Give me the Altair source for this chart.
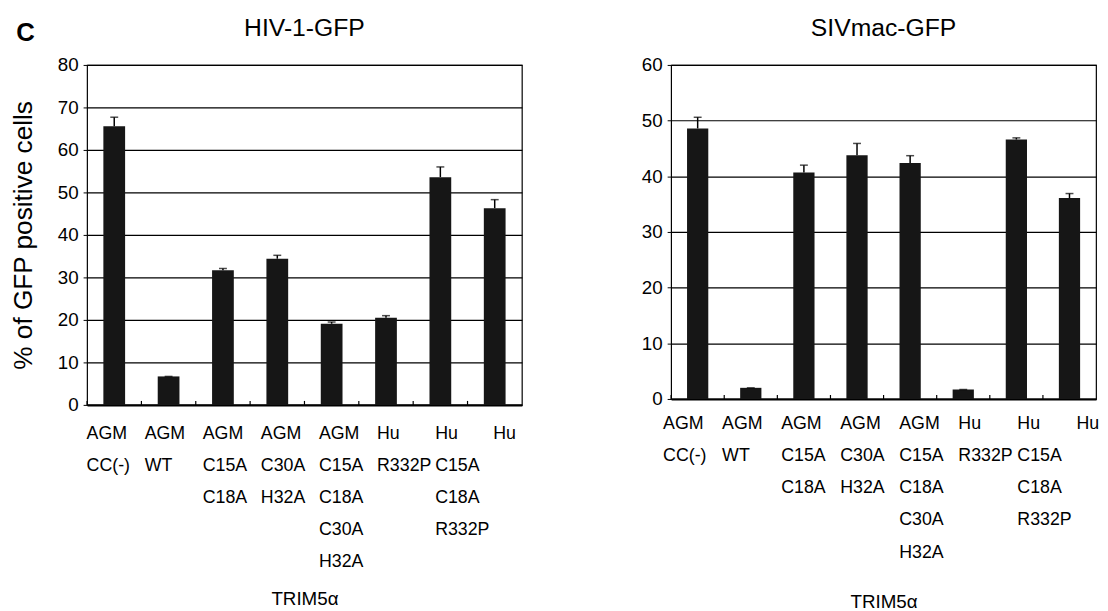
import altair as alt
import pandas as pd

# ---- data ----
categories = [
    "AGM\nCC(-)",
    "AGM\nWT",
    "AGM\nC15A\nC18A",
    "AGM\nC30A\nH32A",
    "AGM\nC15A\nC18A\nC30A\nH32A",
    "Hu\nR332P",
    "Hu\nC15A\nC18A\nR332P",
    "Hu",
]
hiv_values = [65.6, 6.7, 31.7, 34.4, 19.1, 20.5, 53.6, 46.3]
hiv_errors = [2.1, 0.0, 0.4, 0.8, 0.4, 0.5, 2.4, 2.0]
siv_values = [48.6, 2.0, 40.7, 43.8, 42.4, 1.7, 46.6, 36.1]
siv_errors = [2.0, 0.0, 1.3, 2.1, 1.3, 0.0, 0.3, 0.8]

panel_titles = ["HIV-1-GFP", "SIVmac-GFP"]
y_maxima = [80, 60]
x_title = "TRIM5\u03b1"
y_title = "% of GFP positive cells"
panel_letter = "C"

FONT = "Liberation Sans"


def panel(values, errors, title, ymax, width, height, offset_expr,
          label_pad, title_pad, with_ytitle):
    df = pd.DataFrame({
        "cat": categories,
        "value": values,
        "hi": [v + e for v, e in zip(values, errors)],
    })
    xscale = alt.Scale(domain=categories, paddingInner=0, paddingOuter=0)
    yscale = alt.Scale(domain=[0, ymax], nice=False)

    x_axis = alt.Axis(
        title=x_title,
        labelExpr="split(datum.label, '\\n')",
        labelAngle=0,
        labelAlign="left",
        labelBaseline="top",
        labelFontSize=18,
        labelLineHeight=32.5,
        labelOffset={"expr": offset_expr},
        labelPadding=label_pad,
        labelOverlap=False,
        labelColor="black",
        ticks=False,
        domain=True,
        domainColor="black",
        domainWidth=2,
        grid=False,
        titleFontSize=19,
        titleFontWeight="normal",
        titleColor="black",
        titlePadding=title_pad,
    )
    ykw = dict(
        values=list(range(0, ymax + 1, 10)),
        tickSize=4,
        tickColor="black",
        tickWidth=1,
        domain=False,
        grid=True,
        gridColor="black",
        gridWidth=1.2,
        labelFontSize=19,
        labelPadding=5,
        labelColor="black",
    )
    if with_ytitle:
        ykw.update(title=y_title, titleFontSize=26.5, titleFontWeight="normal",
                   titleColor="black", titlePadding=20)
    else:
        ykw.update(title="")
    y_axis = alt.Axis(**ykw)

    base = alt.Chart(df)
    bars = base.mark_bar(color="#161616", width={"band": 0.4}).encode(
        x=alt.X("cat:N", sort=None, scale=xscale, axis=x_axis),
        y=alt.Y("value:Q", scale=yscale, axis=y_axis),
    )
    err = base.mark_rule(color="black", strokeWidth=1.5).encode(
        x=alt.X("cat:N", sort=None),
        y="value:Q",
        y2="hi:Q",
    )
    cap = base.mark_tick(color="black", size=8, thickness=1.5).encode(
        x=alt.X("cat:N", sort=None),
        y="hi:Q",
    )
    inward = base.mark_rule(color="black", strokeWidth=1.2).encode(
        x=alt.X("cat:N", sort=None, bandPosition=0),
        y=alt.value(height),
        y2=alt.value(height - 4),
    )
    return alt.layer(bars, err, cap, inward).properties(
        width=width,
        height=height,
        title=alt.TitleParams(title, fontSize=25, fontWeight="normal",
                              color="black", offset=15, anchor="middle"),
    )


left = panel(hiv_values, hiv_errors, panel_titles[0], y_maxima[0], 440, 344,
             "-28 + 26.5*datum.index", 20, 19, True)
right = panel(siv_values, siv_errors, panel_titles[1], y_maxima[1], 430, 338,
              "-35 + 42*datum.index", 16, 32, False)

chart = alt.hconcat(left, right, spacing=119).properties(
    padding={"left": 2, "top": 4, "right": 0, "bottom": 0},
    title=alt.TitleParams(panel_letter, fontSize=26, fontWeight="bold",
                          color="black", anchor="start", offset=-30, dx=6),
).configure(font=FONT).configure_view(stroke="black", strokeWidth=1.2)

chart.save("out.html", embed_options={"renderer": "svg", "actions": False})
